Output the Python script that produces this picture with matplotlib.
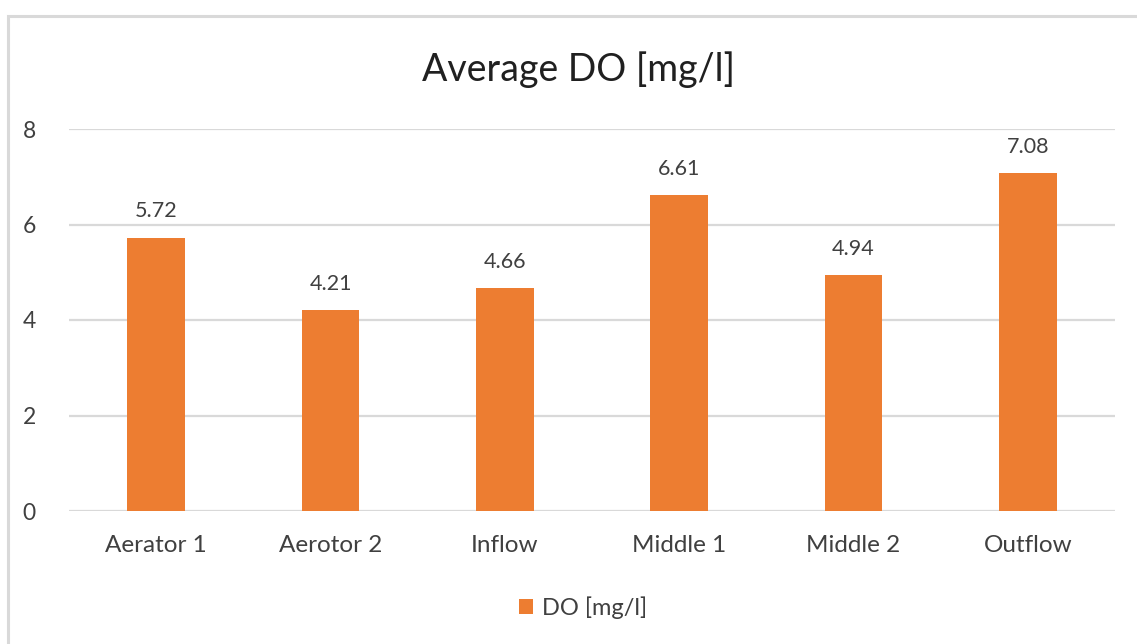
import matplotlib
matplotlib.use("Agg")
import matplotlib.pyplot as plt
from matplotlib.patches import Rectangle

categories = ["Aerator 1", "Aerotor 2", "Inflow", "Middle 1", "Middle 2", "Outflow"]
do_values = [5.72, 4.21, 4.66, 6.61, 4.94, 7.08]
y_ticks = [0, 2, 4, 6, 8]
series_name = "DO [mg/l]"
title = "Average DO [mg/l]"

ORANGE = "#ED7D31"
GRID = "#D9D9D9"
TEXT = "#404040"

plt.rcParams["font.family"] = ["Lato", "DejaVu Sans"]

W, H = 1137, 644
fig = plt.figure(figsize=(W / 100, H / 100), dpi=100)

# chart frame (runs off the right and bottom edges)
fig.patches.append(Rectangle((8 / W, -0.05), 1.2, (H - 16) / H + 0.05,
                             transform=fig.transFigure, fill=False,
                             edgecolor=GRID, linewidth=2.2))

left, right = 69 / W, 1115 / W
bottom = (H - 511) / H
top = (H - 129) / H
ax = fig.add_axes([left, bottom, right - left, top - bottom])

x = range(len(categories))
bars = ax.bar(x, do_values, width=0.33, color=ORANGE, zorder=3, label=series_name)

ax.set_xlim(-0.5, len(categories) - 0.5)
ax.set_ylim(0, 8)
ax.set_yticks(y_ticks)
ax.set_yticklabels([str(t) for t in y_ticks])
ax.set_xticks(list(x))
ax.set_xticklabels(categories)

ax.yaxis.grid(True, color=GRID, linewidth=1.6, zorder=0)
ax.set_axisbelow(True)
for s in ax.spines.values():
    s.set_visible(False)
ax.tick_params(axis="both", length=0, labelcolor=TEXT)
ax.tick_params(axis="y", pad=24, labelsize=16.5)
ax.tick_params(axis="x", pad=17, labelsize=17.5)

for b, v in zip(bars, do_values):
    ax.annotate(f"{v:.2f}", (b.get_x() + b.get_width() / 2, v),
                xytext=(0, 19), textcoords="offset points",
                ha="center", va="center", fontsize=15.5, color=TEXT)

fig.text(578 / W, 1 - 70 / H, title, ha="center", va="center",
         fontsize=27, color="#202020")

leg = fig.legend(handles=[bars], labels=[series_name], loc="center",
                 bbox_to_anchor=(583 / W, 1 - 608 / H), frameon=False,
                 fontsize=17, handlelength=0.6, handleheight=0.6,
                 handletextpad=0.4, labelcolor=TEXT)

fig.savefig("out.png", dpi=100, facecolor="white")
